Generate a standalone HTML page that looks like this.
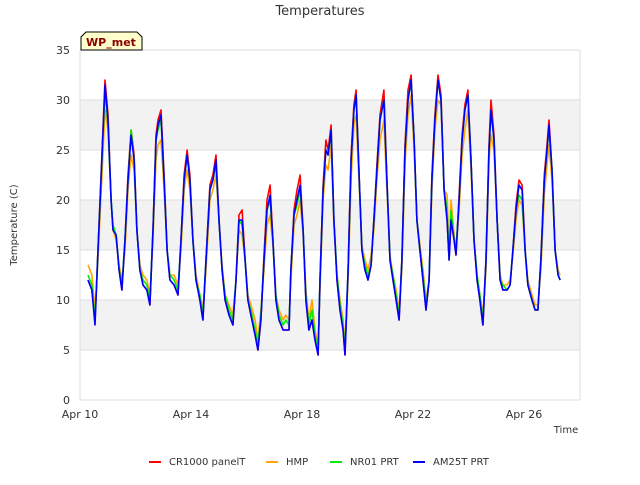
<!DOCTYPE html>
<html><head><meta charset="utf-8"><style>
body{margin:0;background:#fff;font-family:"Liberation Sans","DejaVu Sans",sans-serif}
svg text{font-family:"DejaVu Sans","Liberation Sans",sans-serif}
</style></head><body>
<svg id="c" width="640" height="480" xmlns="http://www.w3.org/2000/svg"></svg>
<script>
const days=[0.29,0.43,0.54,0.65,0.90,1.01,1.12,1.19,1.30,1.41,1.51,1.62,1.73,1.84,1.95,2.05,2.16,2.27,2.41,2.52,2.63,2.74,2.81,2.92,3.03,3.14,3.24,3.39,3.53,3.64,3.75,3.86,3.96,4.07,4.18,4.32,4.43,4.54,4.68,4.79,4.90,5.01,5.12,5.23,5.37,5.51,5.62,5.73,5.84,5.95,6.05,6.16,6.31,6.41,6.52,6.63,6.74,6.85,6.95,7.06,7.17,7.32,7.42,7.53,7.60,7.71,7.82,7.93,8.04,8.14,8.25,8.36,8.47,8.58,8.65,8.76,8.86,8.94,9.05,9.15,9.26,9.37,9.48,9.55,9.66,9.77,9.87,9.95,10.05,10.16,10.27,10.38,10.49,10.59,10.70,10.81,10.95,11.06,11.17,11.28,11.39,11.50,11.60,11.71,11.82,11.93,12.04,12.14,12.25,12.36,12.47,12.58,12.68,12.79,12.90,13.01,13.12,13.23,13.30,13.37,13.48,13.55,13.66,13.77,13.87,13.98,14.09,14.20,14.31,14.41,14.52,14.63,14.74,14.81,14.92,15.03,15.14,15.24,15.39,15.50,15.60,15.71,15.82,15.93,16.04,16.14,16.29,16.40,16.50,16.61,16.73,16.83,16.90,17.01,17.12,17.23,17.30];
const seriesNames=["CR1000 panelT","HMP","NR01 PRT","AM25T PRT"];
const seriesColors=["#ff0000","#ffa500","#00ee00","#0000ff"];
const cr1000=[12,11,8,15,32,28.5,20,17,16.5,13,11,16,22.5,27,24.5,17,13,11.5,11,9.5,17,26.5,28,29,22.5,15,12,11.5,10.5,16,22.5,25,22.5,16,12,10,8,14,21.5,22.5,24.5,18,13,10,8.5,7.5,12,18.5,19,14,10,8.5,6.5,5,8,14.5,20,21.5,16,10,8,7,7,7,13,19,21,22.5,17,10,7,8,6,4.5,12,21.5,26,25,27.5,18,12,9,7,4.5,13,24.5,29.5,31,23,15,13,12,13.5,18,23.5,28.5,31,22,14,12,10,8,14,25.5,31,32.5,26,18,15,12,9,12,22.5,28.5,32.5,30.5,21,18,14,18,16,14.5,20.5,26.5,29.5,31,24,16,12,10,7.5,14,25.5,30,26.5,18,12,11,11,11.5,15,19.5,22,21.5,15,11.5,10,9,9,14,22.5,25.5,28,23,15,12.5,12];
const hmp=[13.5,12.5,9,14,29,27,20,17,16,13.5,12,15,21,24.5,23,17,13.5,12.5,12,10.5,16,24,25.5,26,21,15,12.5,12.5,11.5,15,21,23,21,16,12.5,10.5,9,13,20,21,22.5,18,13.5,10.5,9.5,8.5,12,17,16.5,14,10.5,9.5,8,6,9,13,17.5,18.5,15.5,10.5,9,8,8.5,8,12,17.5,18.5,20,16.5,11,8,10,7,5.5,11,20,23.5,23,25.5,17.5,12.5,10,8,5.5,12,22,27.5,28.5,22,15.5,14,13,14.5,17,22,26,28,21,14.5,12.5,11,9,13,23.5,28.5,30.5,25,18,15.5,13,10,12,21,27,30,29.5,21,20.5,14.5,20,16.5,15,19,24.5,27,29,23,16,12.5,10.5,8.5,13,24,26.5,25,18,12.5,11.5,11.5,12,14.5,18,20,19.5,15,12,10.5,9.5,9.5,13,20.5,23.5,25.5,22,15,13,12.5];
const nr01=[12.5,11.5,8,15,31,27.5,20,17.5,16.5,13,11.5,16,22,27,24,17,13,12,11.5,10,17,26,27,28,22,15,12.5,12,11,16,22,24.5,22,16,12,10.5,8.5,14,21,22,23.5,18,13,10.5,9,8,12,18,17.5,14,10,9,7,5.5,8.5,14,19,20,16,10.5,8.5,7.5,8,7.5,13,18.5,19.5,21,17,10.5,7.5,9,6.5,5,12,21,25,24.5,27,18,12.5,9.5,7.5,5,13,24,29,30.5,23,15,13.5,12.5,13.5,18,23,28,30,22,14,12.5,10.5,8.5,14,25,30,32,26,18,15,12.5,9.5,12,22,28,32,30,21,19,14,19,16,15,20,26,29,30.5,24,16,12.5,10.5,8,14,25,29,26,18,12,11.5,11,11.5,15,19,20.5,20,15,11.5,10,9,9,14,22,25,27,23,15,12.5,12];
const am25t=[12,11,7.5,15,31.5,28,20,17,16.5,13,11,16,22,26.5,24,17,13,11.5,11,9.5,17,26,27.5,28.5,22,15,12,11.5,10.5,16,22,24.5,22,16,12,10,8,14,21,22,24,18,13,10,8.5,7.5,12,18,18,14,10,8.5,6.5,5,8,14,19,20.5,16,10,8,7,7,7,13,18.5,20,21.5,17,10,7,8,6,4.5,12,21,25,24.5,27,18,12,9,7,4.5,13,24,29,30.5,23,15,13,12,13.5,18,23,28,30,22,14,12,10,8,14,25,30,32,26,18,15,12,9,12,22,28,32,30,21,18,14,18,16,14.5,20,26,29,30.5,24,16,12,10,7.5,14,25,29,26,18,12,11,11,11.5,15,19,21.5,21,15,11.5,10,9,9,14,22,25,27.5,23,15,12.5,12];
const seriesData=[cr1000,hmp,nr01,am25t];
const yTicks=[0,5,10,15,20,25,30,35];
const xTickDays=[0,4,8,12,16];
const xTickLabels=["Apr 10","Apr 14","Apr 18","Apr 22","Apr 26"];

const NS="http://www.w3.org/2000/svg";
const svg=document.getElementById('c');
const L=80,R=580,T=50,B=400,yMax=35,dayW=27.75;
const X=d=>L+d*dayW, Y=v=>B-(v/yMax)*(B-T);
function mk(tag,attrs,parent){const e=document.createElementNS(NS,tag);for(const k in attrs)e.setAttribute(k,attrs[k]);(parent||svg).appendChild(e);return e;}

const plot=mk('g',{});


mk('rect',{x:L,y:T,width:R-L,height:B-T,fill:'#fff'},plot);
for(let i=0;i<yTicks.length-1;i++){
  if(i%2===1){const r=mk('rect',{x:L,y:Y(yTicks[i+1]),width:R-L,height:Y(yTicks[i])-Y(yTicks[i+1]),fill:'#f2f2f2'},plot);
  
  }
}
yTicks.forEach(v=>{
  const g=mk('line',{x1:L,x2:R,y1:Y(v),y2:Y(v),stroke:'#dddddd','stroke-width':1},plot);
  
  
  const t=mk('text',{x:L-10,y:Y(v)+4,'text-anchor':'end','font-size':11,fill:'#333'});
  t.textContent=v;
  
  
});
mk('line',{x1:L,x2:L,y1:T,y2:B,stroke:'#dddddd'},plot);
mk('line',{x1:R,x2:R,y1:T,y2:B,stroke:'#dddddd'},plot);
xTickDays.forEach((d,i)=>{
  const t=mk('text',{x:X(d),y:B+18,'text-anchor':'middle','font-size':11,fill:'#333'});
  t.textContent=xTickLabels[i];
  
  
});
seriesData.forEach((arr,s)=>{
  const n=Math.min(arr.length,days.length);
  let dstr='';
  for(let i=0;i<n;i++)dstr+=(i?'L':'M')+X(days[i]).toFixed(1)+','+Y(arr[i]).toFixed(1);
  const p=mk('path',{d:dstr,fill:'none',stroke:seriesColors[s],'stroke-width':1.6,'stroke-linejoin':'round'});
  
  
});
const title=mk('text',{x:320,y:15,'text-anchor':'middle','font-size':13,fill:'#333'});
title.textContent='Temperatures';


const yl=mk('text',{x:17,y:225,'text-anchor':'middle','font-size':10,fill:'#333',transform:'rotate(-90 17 225)'});
yl.textContent='Temperature (C)';


const xl=mk('text',{x:566,y:433,'text-anchor':'middle','font-size':10,fill:'#333'});
xl.textContent='Time';


const badge=mk('g',{});


mk('path',{d:'M81,50 L81,37 L86,32 L137,32 L142,37 L142,50 Z',fill:'#ffffcc',stroke:'#000','stroke-width':1},badge);
const bt=mk('text',{x:111,y:46,'text-anchor':'middle','font-size':11,'font-weight':'bold',fill:'#8b0000'},badge);
bt.textContent='WP_met';
const lx=[149,266,330,413];
seriesNames.forEach((nm,s)=>{
  const g=mk('g',{});
  
  
  mk('line',{x1:lx[s],x2:lx[s]+12,y1:462,y2:462,stroke:seriesColors[s],'stroke-width':2},g);
  const t=mk('text',{x:lx[s]+20,y:465,'font-size':10,fill:'#333'},g);
  t.textContent=nm;
});
</script>
</body></html>
